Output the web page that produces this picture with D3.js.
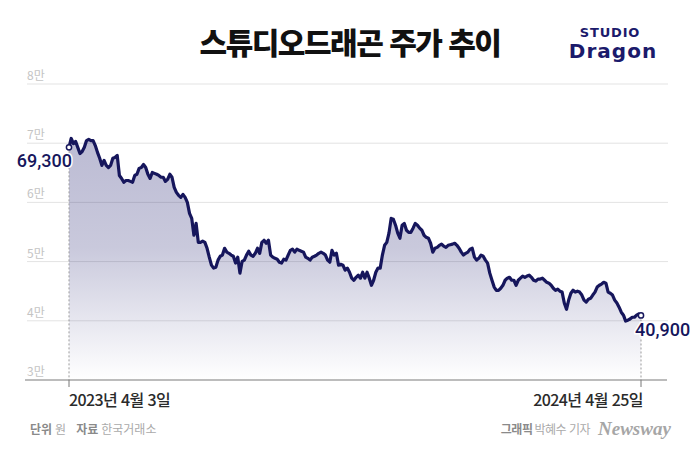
<!DOCTYPE html>
<html lang="ko">
<head>
<meta charset="utf-8">
<title>스튜디오드래곤 주가 추이</title>
<script src="https://d3js.org/d3.v7.min.js"></script>
<style>
  body { margin: 0; background: #fff; }
  svg { display: block; }
  text { font-family: "Noto Sans CJK KR", "Noto Sans", sans-serif; }
</style>
</head>
<body>
<div id="chart"></div>
<script>
// daily close, 2023-04-03 .. 2024-04-25 (won)
var prices = [
  69300, 70800, 69950, 70300, 69300, 68250, 68600, 69300, 70450, 70650,
  70450, 70450, 69600, 68450, 67450, 66250, 67100, 66250, 65900, 66250,
  67450, 67600, 67950, 64550, 64050, 63400, 63700, 63700, 63550, 63400,
  64550, 64750, 65750, 65900, 66400, 65900, 64750, 64050, 65050, 64900,
  64750, 64550, 64250, 64250, 63550, 63900, 64750, 64250, 62550, 61700,
  61200, 60850, 61350, 60850, 60000, 58150, 57300, 54450, 56450, 53250,
  53250, 53450, 53250, 52250, 50750, 49400, 48900, 49050, 50250, 50900,
  51100, 52250, 51600, 51400, 51100, 50900, 49750, 50750, 48050, 50050,
  50250, 51100, 51750, 51100, 50900, 51400, 52250, 51400, 53250, 53600,
  53100, 53600, 51100, 50750, 50550, 50400, 49900, 49750, 50400, 50250,
  51100, 51900, 52100, 51600, 52100, 51900, 51750, 51600, 50750, 50550,
  50250, 50750, 50900, 51100, 51400, 51600, 51400, 51100, 50250, 49900,
  51900, 51100, 51400, 49400, 49550, 49400, 48550, 48900, 48200, 47200,
  46850, 47350, 47700, 47200, 48200, 47200, 48200, 47200, 46000, 46850,
  48200, 48900, 48900, 51100, 52750, 53250, 54800, 57300, 57150, 56150,
  54800, 53950, 56150, 56450, 55300, 54950, 54950, 55650, 56450, 56150,
  55650, 55300, 54450, 54100, 53950, 53100, 51600, 52250, 52400, 52750,
  52950, 52600, 52400, 52750, 52850, 52950, 53100, 52750, 52250, 51600,
  51100, 51400, 51600, 52100, 52250, 50750, 50250, 50550, 51100, 50900,
  50250, 49750, 48050, 46850, 45700, 45150, 45150, 45500, 46000, 46850,
  47200, 47350, 46850, 46850, 46000, 46850, 47200, 47550, 47350, 47550,
  47700, 47350, 46850, 46700, 47050, 47050, 47200, 46850, 46500, 46350,
  46000, 45500, 45150, 45350, 45000, 44850, 43000, 41950, 43500, 44650,
  45150, 44850, 45000, 44850, 44350, 43500, 43150, 43650, 43800, 44350,
  44850, 45700, 46000, 46200, 46500, 46350, 44850, 44650, 44350, 43500,
  43000, 42300, 41450, 40950, 39950, 40100, 40300, 40600, 40600, 40950,
  41150, 40900
];
var yTicks = [30000, 40000, 50000, 60000, 70000, 80000];
var dateLabels = ["2023년 4월 3일", "2024년 4월 25일"];

var w = 700, h = 450;
var navy = "#16165c";

var svg = d3.select("#chart").append("svg")
  .attr("width", w).attr("height", h);

var x = d3.scaleLinear().domain([0, prices.length - 1]).range([69, 641]);
var y = d3.scaleLinear().domain([30000, 80000]).range([380, 84]);

// title
svg.append("text")
  .attr("x", 350).attr("y", 54)
  .attr("text-anchor", "middle")
  .attr("font-size", "30px").attr("font-weight", 900)
  .attr("letter-spacing", "-1.5px")
  .attr("fill", "#111")
  .text("스튜디오드래곤 주가 추이");

// logo
svg.append("text")
  .attr("x", 610).attr("y", 37).attr("text-anchor", "middle")
  .style("font-family", "'DejaVu Sans', sans-serif")
  .attr("font-size", "13px").attr("font-weight", 700)
  .attr("letter-spacing", "0.8px")
  .attr("fill", "#1b1a6b").text("STUDIO");
svg.append("text")
  .attr("x", 613).attr("y", 58).attr("text-anchor", "middle")
  .style("font-family", "'DejaVu Sans', sans-serif")
  .attr("font-size", "20px").attr("font-weight", 700)
  .attr("letter-spacing", "1px")
  .attr("fill", "#1b1a6b").text("Dragon");

// gradient for the area
var grad = svg.append("defs").append("linearGradient")
  .attr("id", "fade").attr("gradientUnits", "userSpaceOnUse")
  .attr("x1", 0).attr("y1", 140).attr("x2", 0).attr("y2", 380);
grad.append("stop").attr("offset", "0%").attr("stop-color", "#1f1e6e").attr("stop-opacity", 0.3);
grad.append("stop").attr("offset", "45%").attr("stop-color", "#1f1e6e").attr("stop-opacity", 0.24);
grad.append("stop").attr("offset", "100%").attr("stop-color", "#1f1e6e").attr("stop-opacity", 0);

// grid + y labels
svg.selectAll("line.grid")
  .data(yTicks.slice(1))
  .enter().append("line")
  .attr("class", "grid")
  .attr("x1", 27).attr("x2", 668)
  .attr("y1", function(d) { return y(d); })
  .attr("y2", function(d) { return y(d); })
  .attr("stroke", "#e3e3e3").attr("stroke-width", 1);

svg.selectAll("text.ylab")
  .data(yTicks)
  .enter().append("text")
  .attr("class", "ylab")
  .attr("x", 27)
  .attr("y", function(d) { return y(d) - 4; })
  .attr("font-size", "12px")
  .attr("fill", "#c4c4c4")
  .text(function(d) { return (d / 10000) + "만"; });

// area + line
var area = d3.area()
  .x(function(d, i) { return x(i); })
  .y0(y(30000))
  .y1(function(d) { return y(d); });
var line = d3.line()
  .x(function(d, i) { return x(i); })
  .y(function(d) { return y(d); });

svg.append("path").datum(prices)
  .attr("d", area).attr("fill", "url(#fade)");

// dashed guides at start and end
var last = prices.length - 1;
[0, last].forEach(function(i) {
  svg.append("line")
    .attr("x1", x(i)).attr("x2", x(i))
    .attr("y1", y(prices[i]) + 4).attr("y2", y(30000))
    .attr("stroke", "#9a9a9a").attr("stroke-width", 1)
    .attr("stroke-dasharray", "2,2");
  svg.append("line")
    .attr("x1", x(i)).attr("x2", x(i))
    .attr("y1", y(30000)).attr("y2", y(30000) + 7)
    .attr("stroke", "#777").attr("stroke-width", 1);
});

// x axis line
svg.append("line")
  .attr("x1", 25).attr("x2", 667)
  .attr("y1", y(30000)).attr("y2", y(30000))
  .attr("stroke", "#7a7a7a").attr("stroke-width", 1.2);

svg.append("path").datum(prices)
  .attr("d", line)
  .attr("fill", "none")
  .attr("stroke", navy)
  .attr("stroke-width", 3.2)
  .attr("stroke-linejoin", "round");

// end markers
[0, last].forEach(function(i) {
  svg.append("circle")
    .attr("cx", x(i)).attr("cy", y(prices[i])).attr("r", 2.6)
    .attr("fill", "#fff").attr("stroke", navy).attr("stroke-width", 1.5);
});

// value labels
var fmt = d3.format(",");
svg.append("text")
  .attr("x", x(0) + 3).attr("y", y(prices[0]) + 20)
  .attr("text-anchor", "end")
  .attr("font-size", "18px").attr("font-weight", 500).attr("fill", navy)
  .attr("stroke", "#fff").attr("stroke-width", 3).attr("paint-order", "stroke")
  .style("font-family", "Roboto, sans-serif")
  .text(fmt(prices[0]));
svg.append("text")
  .attr("x", x(last) - 6).attr("y", y(prices[last]) + 21)
  .attr("font-size", "18px").attr("font-weight", 500).attr("fill", navy)
  .attr("stroke", "#fff").attr("stroke-width", 3).attr("paint-order", "stroke")
  .style("font-family", "Roboto, sans-serif")
  .text(fmt(prices[last]));

// date labels
svg.append("text")
  .attr("x", x(0)).attr("y", 406)
  .attr("font-size", "16px").attr("font-weight", 500).attr("fill", "#2a2a2a")
  .attr("letter-spacing", "-0.6px")
  .text(dateLabels[0]);
svg.append("text")
  .attr("x", x(last) + 2).attr("y", 406)
  .attr("text-anchor", "end")
  .attr("font-size", "16px").attr("font-weight", 500).attr("fill", "#2a2a2a")
  .attr("letter-spacing", "-0.6px")
  .text(dateLabels[1]);

// footer
var foot = svg.append("text")
  .attr("x", 30).attr("y", 434)
  .attr("font-size", "12px").attr("fill", "#999");
foot.append("tspan").attr("font-weight", 700).attr("fill", "#8a8a8a").text("단위");
foot.append("tspan").attr("dx", 3).attr("fill", "#aaa").text("원");
foot.append("tspan").attr("dx", 10).attr("font-weight", 700).attr("fill", "#8a8a8a").text("자료");
foot.append("tspan").attr("dx", 3).attr("fill", "#aaa").text("한국거래소");

var credit = svg.append("text")
  .attr("x", 590).attr("y", 434).attr("text-anchor", "end")
  .attr("font-size", "12px").attr("letter-spacing", "-0.5px");
credit.append("tspan").attr("font-weight", 700).attr("fill", "#8a8a8a").text("그래픽");
credit.append("tspan").attr("dx", 2).attr("fill", "#aaa").text("박혜수 기자");

svg.append("text")
  .attr("x", 598).attr("y", 435)
  .style("font-family", "'Liberation Serif', serif")
  .attr("font-size", "19px").attr("font-style", "italic").attr("font-weight", 700)
  .attr("fill", "#a6a6a6")
  .text("Newsway");
</script>
</body>
</html>
